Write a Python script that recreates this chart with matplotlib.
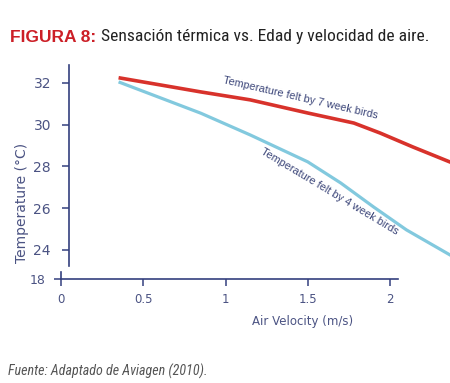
import matplotlib
matplotlib.use("Agg")
from matplotlib import pyplot as plt

# datos
vel_7 = [0.35, 0.85, 1.15, 1.5, 1.78, 1.94, 2.14, 2.4]
temp_7 = [32.25, 31.57, 31.19, 30.56, 30.08, 29.6, 28.93, 28.1]
vel_4 = [0.35, 0.85, 1.15, 1.5, 1.7, 1.9, 2.1, 2.4]
temp_4 = [32.05, 30.55, 29.51, 28.22, 27.21, 26.06, 24.96, 23.6]
yticks = [24, 26, 28, 30, 32]
xticks = [0, 0.5, 1, 1.5, 2]
xticklabels = ["0", "0.5", "1", "1.5", "2"]

navy = "#34407e"
txt = "#4b5383"
W, H = 450, 383
narrow = ["Roboto Condensed", "Liberation Sans Narrow", "Roboto", "DejaVu Sans"]

fig = plt.figure(figsize=(4.5, 3.83), dpi=100)

# eje principal (temperatura)
ax = fig.add_axes([61 / W, (H - 266) / H, 389 / W, 201 / H])
ax.plot(vel_7, temp_7, color="#d8322b", lw=2.6, solid_capstyle="butt")
ax.plot(vel_4, temp_4, color="#82c9de", lw=2.3, solid_capstyle="butt")
ax.set_xlim(0, 389 / 164.5)
ax.set_ylim(23.23, 32.86)
for s in ["top", "right", "bottom"]:
    ax.spines[s].set_visible(False)
ax.spines["left"].set_position(("data", 0.0486))
ax.spines["left"].set_color(navy)
ax.spines["left"].set_linewidth(1.2)
ax.set_xticks([])
ax.set_yticks(yticks)
ax.tick_params(axis="y", colors=navy, labelcolor=txt, length=5, width=1.1,
               pad=8, labelsize=10)

ax.text(1.453, 31.28, "Temperature felt by 7 week birds", rotation=-13,
        rotation_mode="anchor", ha="center", va="center", fontsize=7.8,
        color="#3a4478", family="Liberation Sans")
ax.text(1.635, 26.78, "Temperature felt by 4 week birds", rotation=-31,
        rotation_mode="anchor", ha="center", va="center", fontsize=7.8,
        color="#3a4478", family="Liberation Sans")

# eje x (roto, con el 18)
ax2 = fig.add_axes([61 / W, (H - 279) / H, 389 / W, 7 / H])
ax2.set_xlim(0, 389 / 164.5)
ax2.set_ylim(18, 19)
ax2.patch.set_visible(False)
for s in ["top", "right"]:
    ax2.spines[s].set_visible(False)
ax2.spines["bottom"].set_bounds(0, 2.05)
for s in ["bottom", "left"]:
    ax2.spines[s].set_color(navy)
    ax2.spines[s].set_linewidth(1.2)
ax2.set_xticks(xticks)
ax2.set_xticklabels(xticklabels)
ax2.set_yticks([18])
ax2.tick_params(colors=navy, labelcolor=txt, length=5, width=1.1, labelsize=8.5)
ax2.tick_params(axis="y", pad=6, labelsize=9)
ax2.tick_params(axis="x", pad=5)

fig.text(303 / W, 1 - 322 / H, "Air Velocity (m/s)", ha="center", va="center",
         fontsize=8.5, color=txt)
fig.text(22 / W, 1 - 203 / H, "Temperature (\u00b0C)", rotation=90, ha="center",
         va="center", fontsize=10, color=txt)

# titulo y fuente
fig.text(10 / W, 1 - 37 / H, "FIGURA 8:", fontsize=12.5, fontweight="bold",
         color="#cc1f27", family="Liberation Sans", va="center")
fig.text(101 / W, 1 - 37 / H, "Sensación térmica vs. Edad y velocidad de aire.",
         fontsize=12.6, color="#222222", family=narrow, va="center")
fig.text(8 / W, 1 - 371 / H, "Fuente: Adaptado de Aviagen (2010).", fontsize=10.1,
         style="italic", color="#555555", family=narrow, va="center")

fig.savefig("out.png", dpi=100)
